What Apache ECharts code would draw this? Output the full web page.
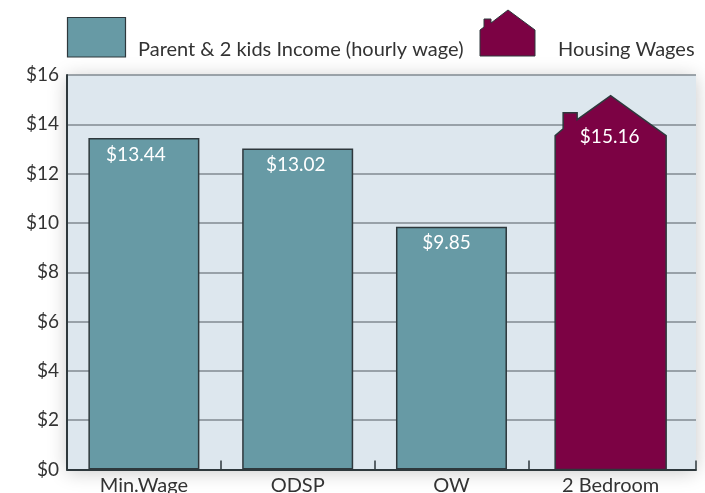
<!DOCTYPE html>
<html><head><meta charset="utf-8">
<style>html,body{margin:0;padding:0;background:#fff}#c{width:705px;height:493px}</style>
<script src="https://cdn.jsdelivr.net/npm/echarts@6/dist/echarts.min.js"></script>
</head><body><div id="c"></div>
<script>
const categories = ['Min.Wage', 'ODSP', 'OW', '2 Bedroom'];
const categorySlots = [0.5, 1.5, 2.5, 3.535];
const incomeValues = [13.44, 13.02, 9.85];
const housingValues = [15.16];
const yTicks = [0, 2, 4, 6, 8, 10, 12, 14, 16];
const xDividers = [1, 2, 3, 4.09];
const legendNames = ['Parent & 2 kids Income (hourly wage)', 'Housing Wages'];
const incomeLabelShift = [-8, -2, -5];

const TEAL = '#679aa5', MAROON = '#7c0244', INK = '#2e383c', TEXT = '#333333';
const FONT = 'Lato';
const chart = echarts.init(document.getElementById('c'), null, {renderer: 'canvas'});

function money(v) { return '$' + v.toFixed(2); }

function housePoints(cx, top, base, halfW, eaveDrop, chimLeft, chimRight, chimTop, chimJoinL, chimJoinR) {
  const L = cx - halfW, R = cx + halfW, eave = top + eaveDrop;
  return [[L, base], [L, eave], [cx + chimLeft, chimJoinL], [cx + chimLeft, chimTop],
    [cx + chimRight, chimTop], [cx + chimRight, chimJoinR], [cx, top], [R, eave], [R, base]];
}

const option = {
  animation: false,
  backgroundColor: '#ffffff',
  textStyle: {fontFamily: FONT},
  grid: {
    show: true, left: 67, top: 75, width: 629, height: 394.5,
    outerBoundsMode: 'none',
    backgroundColor: '#dde7ee', borderWidth: 0,
    shadowColor: 'rgba(0,0,0,0.22)', shadowBlur: 18, shadowOffsetX: 0, shadowOffsetY: 2
  },
  xAxis: {
    type: 'value', min: 0, max: 4.09,
    splitLine: {show: false},
    axisLine: {show: true, onZero: false, lineStyle: {color: INK, width: 2}},
    axisTick: {show: true, inside: true, length: 9, customValues: xDividers, lineStyle: {color: INK, width: 1.5}},
    axisLabel: {
      customValues: categorySlots, margin: 6, color: TEXT, fontFamily: FONT, fontSize: 20,
      hideOverlap: false,
      formatter: v => categories[categorySlots.indexOf(v)] || ''
    }
  },
  yAxis: {
    type: 'value', min: 0, max: 16, interval: 2,
    axisLine: {show: true, onZero: false, lineStyle: {color: INK, width: 2}},
    axisTick: {show: false},
    axisLabel: {margin: 8, color: TEXT, fontFamily: FONT, fontSize: 19, formatter: v => '$' + v},
    splitLine: {show: true, lineStyle: {color: '#808a90', width: 1.5}}
  },
  series: [
    {
      name: legendNames[0], type: 'bar', barWidth: 111, z: 3,
      itemStyle: {color: TEAL, borderColor: INK, borderWidth: 1.5},
      data: incomeValues.map((v, i) => ({
        value: [categorySlots[i], v],
        label: {
          show: true, position: 'insideTop', distance: 7, offset: [incomeLabelShift[i], 0],
          color: '#ffffff', fontFamily: FONT, fontSize: 19, formatter: money(v)
        }
      }))
    },
    {
      name: legendNames[1], type: 'custom', z: 3, clip: false,
      data: housingValues.map((v, i) => [categorySlots[incomeValues.length + i], v]),
      encode: {x: 0, y: 1},
      renderItem(params, api) {
        const t = api.coord([api.value(0), api.value(1)]);
        const b = api.coord([api.value(0), 0]);
        return {
          type: 'group',
          children: [
            {
              type: 'polygon',
              shape: {points: housePoints(t[0], t[1], b[1], 55.5, 40, -47.5, -33.5, t[1] + 17, t[1] + 33, t[1] + 24)},
              style: {fill: MAROON, stroke: INK, lineWidth: 1.5}
            },
            {
              type: 'text', x: t[0] - 1, y: t[1] + 41,
              style: {text: money(api.value(1)), fill: '#ffffff', font: '19px ' + FONT, align: 'center', verticalAlign: 'middle'}
            }
          ]
        };
      }
    }
  ],
  graphic: [
    {type: 'rect', silent: true, shape: {x: 67.5, y: 17.5, width: 58, height: 39.5},
      style: {fill: TEAL, stroke: INK, lineWidth: 1.2}},
    {type: 'text', silent: true, x: 138, y: 50,
      style: {text: legendNames[0], fill: TEXT, font: '20px ' + FONT, verticalAlign: 'middle'}},
    {type: 'polygon', silent: true,
      shape: {points: [[480, 56], [480, 30], [484, 27], [484, 19], [491, 19], [491, 23], [508, 10], [535, 30], [535, 56]]},
      style: {fill: MAROON, stroke: INK, lineWidth: 1}},
    {type: 'text', silent: true, x: 558, y: 50,
      style: {text: legendNames[1], fill: TEXT, font: '20px ' + FONT, verticalAlign: 'middle'}}
  ]
};
chart.setOption(option);
</script></body></html>
